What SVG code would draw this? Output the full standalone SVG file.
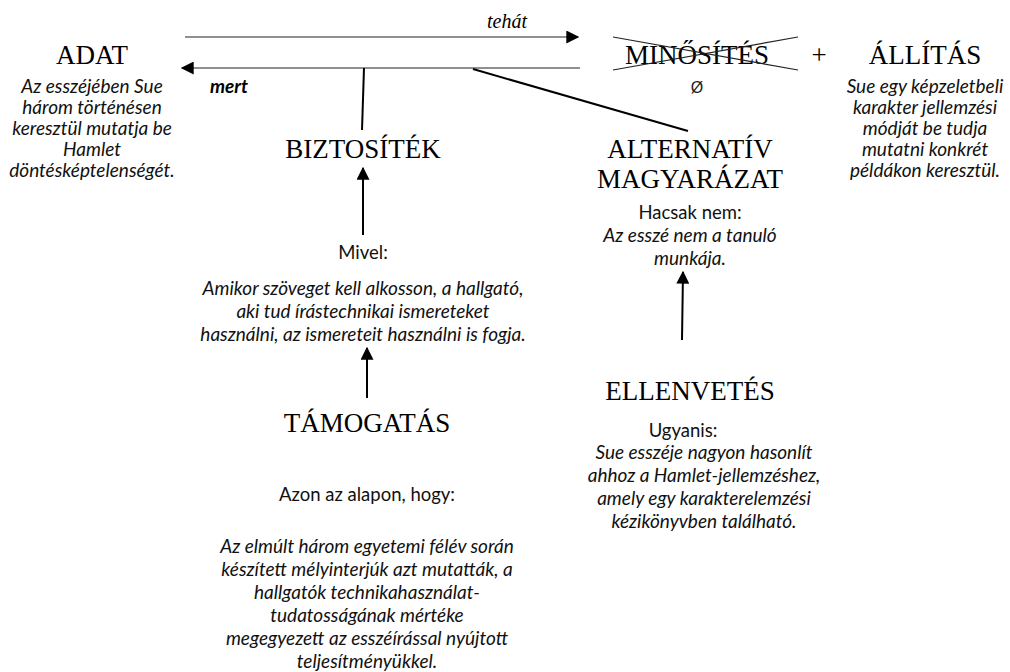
<svg xmlns="http://www.w3.org/2000/svg" width="1010" height="672" viewBox="0 0 1010 672">
<style>
.h{font-family:"Liberation Serif",serif;font-size:27px;fill:#000;text-anchor:middle}
.b{font-family:Lato,"Open Sans",sans-serif;font-size:18.5px;fill:#111;text-anchor:middle}
.i{font-family:Lato,"Open Sans",sans-serif;font-size:19px;font-style:italic;fill:#111;text-anchor:middle}
.ln{stroke:#000;stroke-width:2;fill:none}
.thin{stroke:#222;stroke-width:1.2;fill:none}
.lbl{font-family:"Liberation Serif","Times New Roman",serif;font-size:20px;font-style:italic;text-anchor:middle}
.lbl2{font-family:Lato,sans-serif;font-size:19px;font-style:italic;font-weight:bold;text-anchor:middle}
</style>
<defs>
<marker id="ah2" viewBox="0 0 10 10" refX="9" refY="5" markerWidth="16" markerHeight="13" markerUnits="userSpaceOnUse" orient="auto">
<path d="M0,0 L10,5 L0,10 z" fill="#000"/>
</marker>
</defs>
<rect width="1010" height="672" fill="#fff"/>
<g id="connectors">
<line class="thin" x1="185" y1="37" x2="578" y2="37" marker-end="url(#ah2)"/>
<line class="thin" x1="580" y1="68" x2="182" y2="68" marker-end="url(#ah2)"/>
<line class="ln" x1="364" y1="68" x2="362" y2="130"/>
<line class="ln" x1="473" y1="69" x2="688" y2="131"/>
<line class="ln" x1="363" y1="235" x2="363" y2="168" marker-end="url(#ah2)"/>
<line class="ln" x1="367" y1="398" x2="367" y2="348" marker-end="url(#ah2)"/>
<line class="ln" x1="682" y1="340" x2="683" y2="272" marker-end="url(#ah2)"/>
<text class="lbl" x="507" y="28">tehát</text>
<text class="lbl2" x="229" y="93">mert</text>
</g>
<g id="adat">
<text class="h" x="92" y="64">ADAT</text>
<text class="i" x="92" y="93">Az esszéjében Sue</text>
<text class="i" x="92" y="114">három történésen</text>
<text class="i" x="92" y="135">keresztül mutatja be</text>
<text class="i" x="92" y="156">Hamlet</text>
<text class="i" x="92" y="177">döntésképtelenségét.</text>
</g>
<g id="minosites">
<text class="h" x="697" y="64">MINŐSÍTÉS</text>
<line class="thin" x1="613" y1="37" x2="798" y2="70"/>
<line class="thin" x1="613" y1="70" x2="798" y2="37"/>
<text x="697" y="93" font-family="Liberation Sans,sans-serif" font-size="16" fill="#222" text-anchor="middle">Ø</text>
</g>
<g id="plus">
<text class="h" x="819" y="64">+</text>
</g>
<g id="allitas">
<text class="h" x="925" y="64">ÁLLÍTÁS</text>
<text class="i" x="925" y="93">Sue egy képzeletbeli</text>
<text class="i" x="925" y="114">karakter jellemzési</text>
<text class="i" x="925" y="135">módját be tudja</text>
<text class="i" x="925" y="156">mutatni konkrét</text>
<text class="i" x="925" y="177">példákon keresztül.</text>
</g>
<g id="biztositek">
<text class="h" x="363" y="158">BIZTOSÍTÉK</text>
<text class="b" x="363" y="259">Mivel:</text>
<text class="i" x="363" y="295">Amikor szöveget kell alkosson, a hallgató,</text>
<text class="i" x="363" y="318">aki tud írástechnikai ismereteket</text>
<text class="i" x="363" y="341">használni, az ismereteit használni is fogja.</text>
</g>
<g id="alternativ">
<text class="h" x="690" y="158">ALTERNATÍV</text>
<text class="h" x="690" y="188">MAGYARÁZAT</text>
<text class="b" x="690" y="219">Hacsak nem:</text>
<text class="i" x="690" y="242">Az esszé nem a tanuló</text>
<text class="i" x="690" y="265">munkája.</text>
</g>
<g id="tamogatas">
<text class="h" x="367" y="432">TÁMOGATÁS</text>
<text class="b" x="367" y="501">Azon az alapon, hogy:</text>
<text class="i" x="367" y="553">Az elmúlt három egyetemi félév során</text>
<text class="i" x="367" y="576">készített mélyinterjúk azt mutatták, a</text>
<text class="i" x="367" y="599">hallgatók technikahasználat-</text>
<text class="i" x="367" y="622">tudatosságának mértéke</text>
<text class="i" x="367" y="645">megegyezett az esszéírással nyújtott</text>
<text class="i" x="367" y="668">teljesítményükkel.</text>
</g>
<g id="ellenvetes">
<text class="h" x="690" y="400">ELLENVETÉS</text>
<text class="b" x="683" y="437">Ugyanis:</text>
<text class="i" x="704" y="459">Sue esszéje nagyon hasonlít</text>
<text class="i" x="704" y="482">ahhoz a Hamlet-jellemzéshez,</text>
<text class="i" x="704" y="505">amely egy karakterelemzési</text>
<text class="i" x="704" y="528">kézikönyvben található.</text>
</g>
</svg>
